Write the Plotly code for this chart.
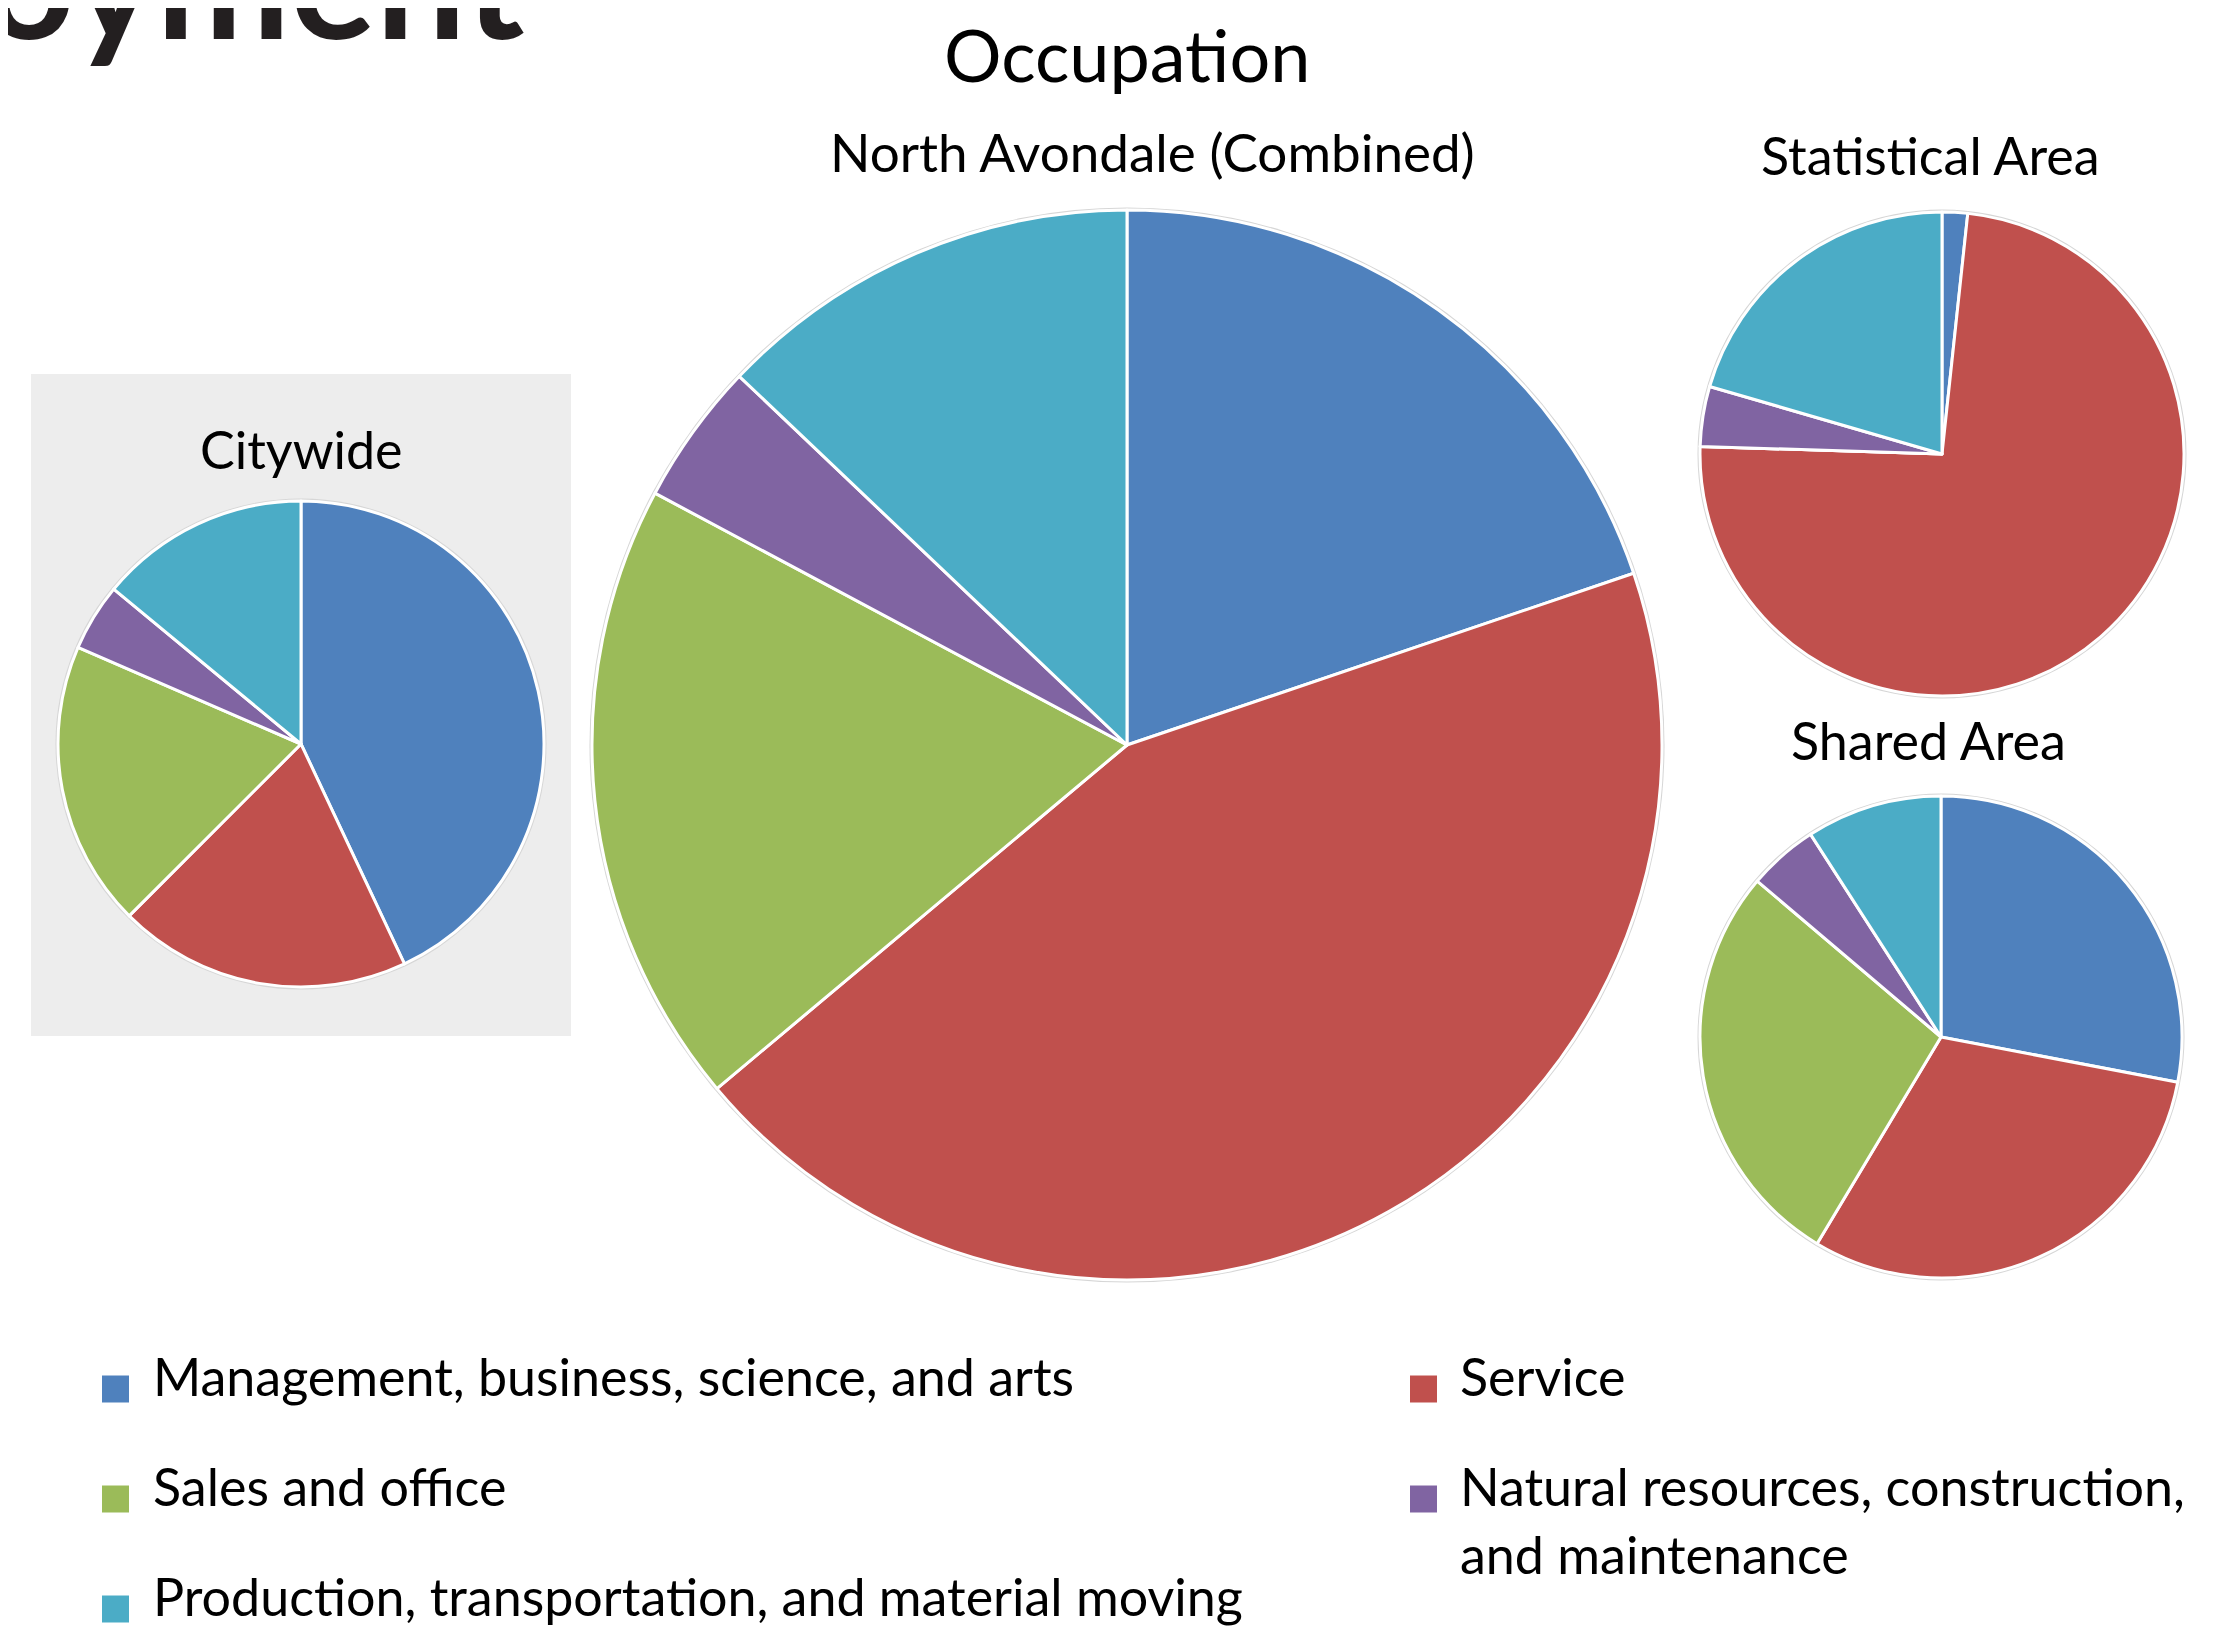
import plotly.graph_objects as go

W, H = 2237, 1638
OFF = 8  # default body margin of the html page

categories = [
    "Management, business, science, and arts",
    "Service",
    "Sales and office",
    "Natural resources, construction,<br>and maintenance",
    "Production, transportation, and material moving",
]
colors = ["#4F81BD", "#C0504D", "#9BBB59", "#8064A2", "#4BACC6"]

north_avondale = [19.8, 44.1, 18.9, 4.3, 12.9]
citywide = [43.0, 19.5, 19.0, 4.5, 14.0]
statistical_area = [1.7, 73.8, 0.0, 4.0, 20.5]
shared_area = [28.0, 30.6, 27.6, 4.7, 9.1]

FONT = "Lato"


def px(X):
    return (X - OFF) / W


def py(Y):
    return 1 - (Y - OFF) / H


def dom(cx, cy, r):
    return dict(x=[px(cx - r), px(cx + r)], y=[py(cy + r), py(cy - r)])


pies = [
    ("North Avondale (Combined)", north_avondale, (1127, 745, 535), (1152, 151), 53),
    ("Citywide", citywide, (301, 744, 243), (301, 449), 52),
    ("Statistical Area", statistical_area, (1942, 454, 242), (1930, 155), 52),
    ("Shared Area", shared_area, (1941, 1037, 241), (1929, 740), 52),
]

fig = go.Figure()
for name, vals, (cx, cy, r), _, _ in pies:
    # faint outer ring
    fig.add_trace(go.Pie(
        values=[1], labels=[""], sort=False, textinfo="none", hoverinfo="skip",
        marker=dict(colors=["#D6D6D6"], line=dict(width=0)),
        domain=dom(cx, cy, r + 2.5), showlegend=False,
    ))
    fig.add_trace(go.Pie(
        labels=categories, values=vals, sort=False, direction="clockwise",
        rotation=0, textinfo="none", hoverinfo="label+percent",
        marker=dict(colors=colors, line=dict(color="white", width=3)),
        domain=dom(cx, cy, r), showlegend=False, name=name,
    ))

ann = []
shapes = []
shapes.append(dict(type="rect", xref="paper", yref="paper", layer="below",
                   x0=px(31), x1=px(571), y0=py(1036), y1=py(374),
                   fillcolor="#EDEDED", line=dict(width=0)))

# big heading, cut off at the page top
ann.append(dict(text="<b>Employment</b>", x=px(526), y=py(75), xref="paper", yref="paper",
                xanchor="right", yanchor="bottom", showarrow=False,
                font=dict(family=FONT, size=160, color="#231F20")))
ann.append(dict(text="Occupation", x=px(1127), y=py(54), xref="paper", yref="paper",
                xanchor="center", yanchor="middle", showarrow=False,
                font=dict(family=FONT, size=72, color="black")))
for name, vals, _, (tx, ty), fs in pies:
    ann.append(dict(text=name, x=px(tx), y=py(ty), xref="paper", yref="paper",
                    xanchor="center", yanchor="middle", showarrow=False,
                    font=dict(family=FONT, size=fs, color="black")))

# legend
sq_pos = [(115.5, 1389), (1423.5, 1389), (115.5, 1499), (1423.5, 1499), (115.5, 1609)]
tx_pos = [(151, 1343), (1458, 1343), (151, 1453), (1458, 1453), (151, 1563)]
sq = 27
for (sx, sy), (lx, ly), lab, col in zip(sq_pos, tx_pos, categories, colors):
    shapes.append(dict(type="rect", xref="paper", yref="paper",
                       x0=px(sx - sq / 2), x1=px(sx + sq / 2),
                       y0=py(sy + sq / 2), y1=py(sy - sq / 2),
                       fillcolor=col, line=dict(width=0)))
    ann.append(dict(text=lab, x=px(lx), y=py(ly), xref="paper", yref="paper",
                    xanchor="left", yanchor="top", align="left", showarrow=False,
                    font=dict(family=FONT, size=52, color="black")))

fig.update_layout(
    width=W, height=H, margin=dict(l=0, r=0, t=0, b=0),
    paper_bgcolor="white", plot_bgcolor="white",
    annotations=ann, shapes=shapes,
)
fig.write_html("out.html")
